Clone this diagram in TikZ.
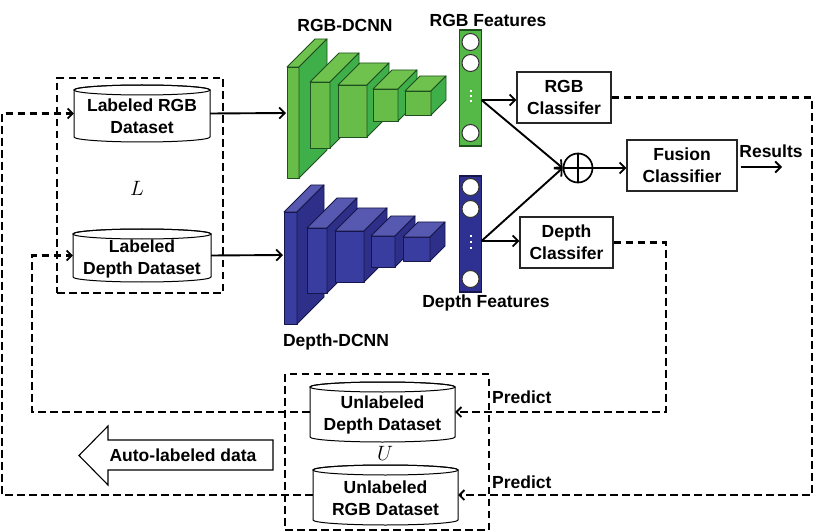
\documentclass[tikz,border=0pt]{standalone}
\usepackage{fontspec}
\setmainfont{Liberation Sans}
\usetikzlibrary{arrows.meta,calc}
\definecolor{gfront}{HTML}{67BD48}
\definecolor{gtop}{HTML}{70C24E}
\definecolor{gside}{HTML}{3FAF49}
\definecolor{gline}{HTML}{1E4F1E}
\definecolor{gfeat}{HTML}{55B947}
\definecolor{bfront}{HTML}{3A3DA0}
\definecolor{btop}{HTML}{5659AF}
\definecolor{bside}{HTML}{2D2F88}
\definecolor{bline}{HTML}{16164A}
\definecolor{bfeat}{HTML}{2E3192}
\newcommand{\cnnblock}[6]{% colour prefix, x1, y1, x2, y2, depth
  \filldraw[draw=#1line, fill=#1front, line width=0.9pt, line join=round] (#2,#3) rectangle (#4,#5);
  \filldraw[draw=#1line, fill=#1top, line width=0.9pt, line join=round] (#2,#3) -- (#2+#6,#3-#6) -- (#4+#6,#3-#6) -- (#4,#3) -- cycle;
  \filldraw[draw=#1line, fill=#1side, line width=0.9pt, line join=round] (#4,#3) -- (#4+#6,#3-#6) -- (#4+#6,#5-#6) -- (#4,#5) -- cycle;
}
\newcommand{\cylshape}[5]{% x1, y1, x2, y2, x radius
  \filldraw[draw=black, fill=white, line width=1pt] (#1,#2+5) -- (#1,#4-5)
    arc[start angle=180, end angle=360, x radius=#5pt, y radius=5pt] -- (#3,#2+5)
    arc[start angle=0, end angle=180, x radius=#5pt, y radius=5pt] -- cycle;
  \draw[black, line width=1pt] ({(#1+#3)/2},#2+5) ellipse[x radius=#5pt, y radius=5pt];
}
\begin{document}
\begin{tikzpicture}[x=1pt, y=-1pt,
  txt/.style={font=\bfseries\fontsize{17.5}{22}\selectfont, align=center, inner sep=0pt},
  cyltext/.style={inner sep=0pt},
  clsbox/.style={txt, draw=black!85, fill=white, line width=1.3pt, minimum height=51pt},
  dashbox/.style={draw=black, line width=2.1pt, dash pattern=on 7.5pt off 4.5pt, inner sep=0pt},
  arr/.style={draw=black, line width=1.9pt, -{Straight Barb[length=5.5pt, width=11pt, line width=1.8pt]}},
  dasharr/.style={draw=black, line width=2.1pt, dash pattern=on 7.5pt off 4.5pt, -{Straight Barb[length=5pt, width=10pt, line width=1.8pt]}},
  featbox/.style={inner sep=0pt, line width=1.1pt, minimum width=22pt, minimum height=116pt},
  featcirc/.style={draw=black!80, fill=white, line width=1pt},
  mathlbl/.style={inner sep=0pt, font=\fontsize{20}{20}\selectfont}
]
\useasboundingbox (0,0) rectangle (820,532);

% dashed group boxes
\node[dashbox, minimum width=166pt, minimum height=215pt] (Lbox) at (140,185.5) {};
\node[dashbox, minimum width=204pt, minimum height=156pt] (Ubox) at (387,452) {};

% cylinders (datasets)
\cylshape{74}{85}{210}{142}{68}
\node[cyltext, minimum width=136pt, minimum height=57pt, label={[txt, yshift=-3pt]center:{Labeled RGB\\Dataset}}] (lrgb) at (142,113.5) {};
\cylshape{73}{229}{211}{282}{69}
\node[cyltext, minimum width=138pt, minimum height=53pt, label={[txt, yshift=-3pt]center:{Labeled\\Depth Dataset}}] (ldep) at (142,255.5) {};
\cylshape{310}{382}{455}{442}{72.5}
\node[cyltext, minimum width=145pt, minimum height=60pt, label={[txt, yshift=-3pt]center:{Unlabeled\\Depth Dataset}}] (udep) at (382.5,412) {};
\cylshape{313}{465}{458}{525}{72.5}
\node[cyltext, minimum width=145pt, minimum height=60pt, label={[txt, yshift=-3pt]center:{Unlabeled\\RGB Dataset}}] (urgb) at (385.5,495) {};

\node[mathlbl] (Llbl) at (137,188) {$L$};
\node[mathlbl] (Ulbl) at (385,453) {$U$};

% CNN blocks
\cnnblock{g}{287}{67}{299}{178}{28}
\cnnblock{g}{310}{82}{330}{148}{29}
\cnnblock{g}{338}{85}{367}{137}{22}
\cnnblock{g}{373}{89}{398}{121}{19}
\cnnblock{g}{405}{91}{431}{115}{15}
\cnnblock{b}{284}{212}{297}{324}{27}
\cnnblock{b}{307}{228}{327}{293}{30}
\cnnblock{b}{335}{231}{364}{282}{23}
\cnnblock{b}{371}{236}{395}{267}{20}
\cnnblock{b}{403}{237}{430}{261}{15}
\coordinate (rgbin) at (286,113);
\coordinate (depin) at (283,255);

\node[txt, anchor=base] (rgbnn) at (345,32) {RGB-DCNN};
\node[txt, anchor=base] (depnn) at (336,346) {Depth-DCNN};

% feature columns
\node[featbox, draw=gline, fill=gfeat] (rgbf) at (470.5,88) {};
\foreach \yy in {42,63,133} \draw[featcirc] (470.5,\yy) circle[radius=8.5pt];
\foreach \yy in {91,96,101} \fill[white] (469.5,\yy-1.2) rectangle (471.5,\yy+1.2);
\node[featbox, draw=bline, fill=bfeat] (depf) at (470.5,234) {};
\foreach \yy in {187,209,279} \draw[featcirc] (470.5,\yy) circle[radius=8.5pt];
\foreach \yy in {236,242,248} \fill[white] (469.5,\yy-1.2) rectangle (471.5,\yy+1.2);
\coordinate (rgbout) at (481.5,100);
\coordinate (depout) at (481.5,241);

\node[txt, anchor=base] (rgbft) at (488,27) {RGB Features};
\node[txt, anchor=base] (depft) at (486,307) {Depth Features};

% classifiers
\node[clsbox, minimum width=94pt] (rgbcls) at (564,97.5) {RGB\\Classifer};
\node[clsbox, minimum width=93pt] (depcls) at (566.5,242.5) {Depth\\Classifer};
\node[clsbox, minimum width=110pt] (fuscls) at (682,165.5) {Fusion\\Classifier};
\node[draw=black, line width=1.7pt, circle, minimum size=29pt, inner sep=0pt] (cplus) at (578,168) {};
\draw[black, line width=1.7pt] (cplus.north) -- (cplus.south) (cplus.west) -- (cplus.east);

% solid connectors
\draw[arr] (lrgb.east) -- (rgbin);
\draw[arr] (ldep.east) -- (depin);
\draw[arr] (rgbout) -- (rgbout -| rgbcls.west);
\draw[arr] (depout) -- (depout -| depcls.west);
\draw[arr] (rgbout) -- (cplus.west);
\draw[arr] (depout) -- (cplus.west);
\draw[arr] (cplus.east) -- (cplus.east -| fuscls.west);
\coordinate (resend) at (782,167);
\draw[arr] (resend -| fuscls.east) ++(3,0) -- (resend);
\node[txt, anchor=base] (results) at (771,158) {Results};

% dashed feedback connectors
\coordinate (c1) at (2,300);
\coordinate (c2) at (32,330);
\coordinate (c3) at (666,330);
\coordinate (c4) at (812,300);
\draw[dasharr] (urgb.west) -| (c1) |- (lrgb.west);
\draw[dasharr] (udep.west) -| (c2) |- (ldep.west);
\draw[dasharr] (depcls.east) -| (c3) |- (udep.east);
\draw[dasharr] (rgbcls.east) -| (c4) |- (urgb.east);
\node[txt, anchor=base west] (pred1) at (492,403) {Predict};
\node[txt, anchor=base west] (pred2) at (492,488) {Predict};

% auto-labeled arrow
\filldraw[draw=black, fill=white, line width=1.1pt, line join=miter] (273,440) -- (108,440) -- (108,426) -- (79,455.5) -- (108,485) -- (108,470) -- (273,470) -- cycle;
\node[txt, anchor=base] (auto) at (183,461) {Auto-labeled data};
\end{tikzpicture}
\end{document}
